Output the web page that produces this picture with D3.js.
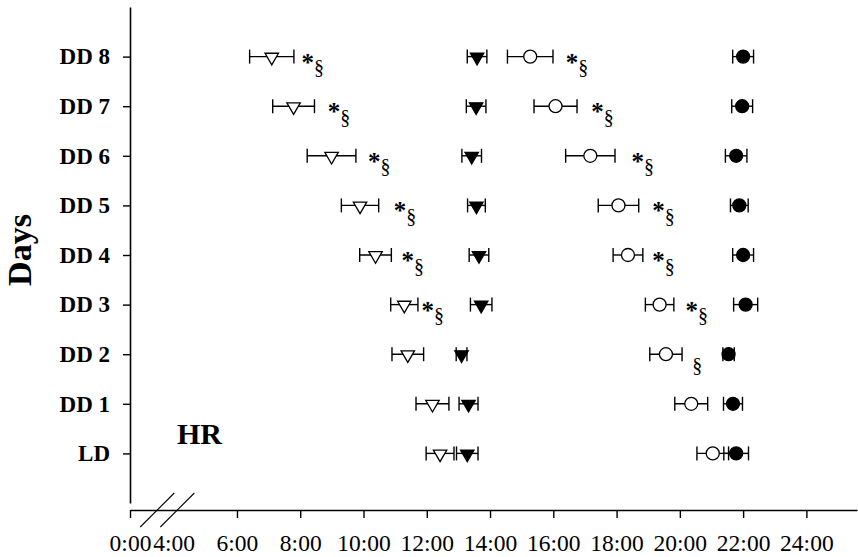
<!DOCTYPE html>
<html>
<head>
<meta charset="utf-8">
<script src="https://cdn.jsdelivr.net/npm/d3@7"></script>
<style>
    body { margin: 0; background: #fff; }
    svg { display: block; font-family: "Liberation Serif", "Times New Roman", serif; }
</style>
</head>
<body>
<div id="chart"></div>
<script>
// Days (bottom to top)
const days = ["LD", "DD 1", "DD 2", "DD 3", "DD 4", "DD 5", "DD 6", "DD 7", "DD 8"];

// hours, mean and sem per day
const openTriMean = [12.42, 12.18, 11.40, 11.29, 10.38, 9.89, 8.99, 7.79, 7.10];
const openTriSem = [0.44, 0.52, 0.50, 0.43, 0.50, 0.59, 0.77, 0.66, 0.70];
const filledTriMean = [13.28, 13.32, 13.10, 13.72, 13.65, 13.57, 13.42, 13.56, 13.59];
const filledTriSem = [0.34, 0.30, 0.17, 0.34, 0.31, 0.28, 0.31, 0.31, 0.31];
const openCircleMean = [21.04, 20.36, 19.56, 19.36, 18.36, 18.06, 17.17, 16.07, 15.27];
const openCircleSem = [0.50, 0.52, 0.51, 0.45, 0.47, 0.64, 0.78, 0.68, 0.72];
const filledCircleMean = [21.78, 21.68, 21.54, 22.08, 22.00, 21.88, 21.78, 21.97, 22.00];
const filledCircleSem = [0.39, 0.30, 0.18, 0.38, 0.33, 0.28, 0.34, 0.33, 0.33];

// significance marks (hour where the mark starts)
const triNote = ["", "", "", "*§", "*§", "*§", "*§", "*§", "*§"];
const triNoteAt = [0, 0, 0, 11.83, 11.20, 10.96, 10.14, 8.87, 8.04];
const circleNote = ["", "", "§", "*§", "*§", "*§", "*§", "*§", "*§"];
const circleNoteAt = [0, 0, 20.39, 20.18, 19.13, 19.13, 18.47, 17.20, 16.39];

const xTicks = [0, 4, 6, 8, 10, 12, 14, 16, 18, 20, 22, 24];

const width = 858, height = 557;
const serif = '"Liberation Serif", "Times New Roman", serif';

const svg = d3.select("#chart").append("svg")
    .attr("width", width)
    .attr("height", height);

// broken axis: 0 -> 4 squeezed
const x = d3.scaleLinear().domain([0, 4, 25.6]).range([130, 173.7, 857]);
const y = d3.scaleLinear().domain([-1, 9]).range([503, 7]);

// x axis
const xAxis = svg.append("g")
    .attr("transform", "translate(0,510)")
    .call(d3.axisBottom(x).tickValues(xTicks).tickFormat(h => h + ":00")
        .tickSize(8).tickSizeOuter(0).tickPadding(16));
xAxis.selectAll(".tick").filter(d => d === 4).select("line").remove();

// y axis
const yAxis = svg.append("g")
    .attr("transform", "translate(130,0)")
    .call(d3.axisLeft(y).tickValues(d3.range(days.length)).tickFormat(i => days[i])
        .tickSize(7).tickSizeOuter(0).tickPadding(13));

[xAxis, yAxis].forEach(g => {
    g.attr("font-family", serif);
    g.select(".domain").attr("stroke-width", 1.6);
    g.selectAll(".tick line").attr("stroke-width", 1.4);
    g.selectAll("text").attr("fill", "#000");
});
xAxis.attr("font-size", 23.5);
yAxis.attr("font-size", 23);
yAxis.selectAll("text").style("font-weight", "bold");

// axis break marks
[2.45, 4.1].forEach(h => {
    svg.append("line")
        .attr("x1", x(h) - 16.5).attr("y1", 527)
        .attr("x2", x(h) + 17.5).attr("y2", 493)
        .attr("stroke", "#000").attr("stroke-width", 1.1);
});

// titles
svg.append("text")
    .attr("transform", "translate(31,250) rotate(-90)")
    .attr("text-anchor", "middle")
    .style("font-size", "34px").style("font-weight", "bold")
    .text("Days");

svg.append("text")
    .attr("x", 177).attr("y", 444)
    .style("font-size", "30px").style("font-weight", "bold")
    .text("HR");

// series
const series = [
    { mean: openTriMean, sem: openTriSem, shape: "tri", fill: "#fff" },
    { mean: filledTriMean, sem: filledTriSem, shape: "tri", fill: "#000" },
    { mean: openCircleMean, sem: openCircleSem, shape: "circle", fill: "#fff" },
    { mean: filledCircleMean, sem: filledCircleSem, shape: "circle", fill: "#000" }
];

const tri = d3.symbol(d3.symbolTriangle, 78);

series.forEach(s => {
    const rows = s.mean.map((m, i) => ({ day: i, m: m, e: s.sem[i] }));
    const g = svg.append("g");

    // error bars
    const bars = g.selectAll("g.bar").data(rows).enter().append("g")
        .attr("stroke", "#000").attr("stroke-width", 1.4);
    bars.append("line")
        .attr("x1", d => x(d.m - d.e)).attr("x2", d => x(d.m + d.e))
        .attr("y1", d => y(d.day)).attr("y2", d => y(d.day));
    bars.append("line")
        .attr("x1", d => x(d.m - d.e)).attr("x2", d => x(d.m - d.e))
        .attr("y1", d => y(d.day) - 7).attr("y2", d => y(d.day) + 7);
    bars.append("line")
        .attr("x1", d => x(d.m + d.e)).attr("x2", d => x(d.m + d.e))
        .attr("y1", d => y(d.day) - 7).attr("y2", d => y(d.day) + 7);

    // markers
    if (s.shape === "tri") {
        g.selectAll("path.mark").data(rows).enter().append("path")
            .attr("d", tri)
            .attr("transform", d => `translate(${x(d.m)},${y(d.day) + 0.5}) rotate(180)`)
            .attr("fill", s.fill).attr("stroke", "#000").attr("stroke-width", 1.3);
    } else {
        g.selectAll("circle").data(rows).enter().append("circle")
            .attr("cx", d => x(d.m)).attr("cy", d => y(d.day))
            .attr("r", 6.5)
            .attr("fill", s.fill).attr("stroke", "#000").attr("stroke-width", 1.3);
    }
});

// significance marks
function drawNotes(notes, at) {
    notes.forEach((n, i) => {
        if (!n) return;
        const t = svg.append("text")
            .attr("x", x(at[i]))
            .attr("y", y(i) + 14);
        if (n.startsWith("*")) {
            t.append("tspan").style("font-size", "25px").style("font-weight", "bold").text("*");
        }
        t.append("tspan").attr("dy", 3.5).style("font-size", "20px").text("§");
    });
}
drawNotes(triNote, triNoteAt);
drawNotes(circleNote, circleNoteAt);
</script>
</body>
</html>
